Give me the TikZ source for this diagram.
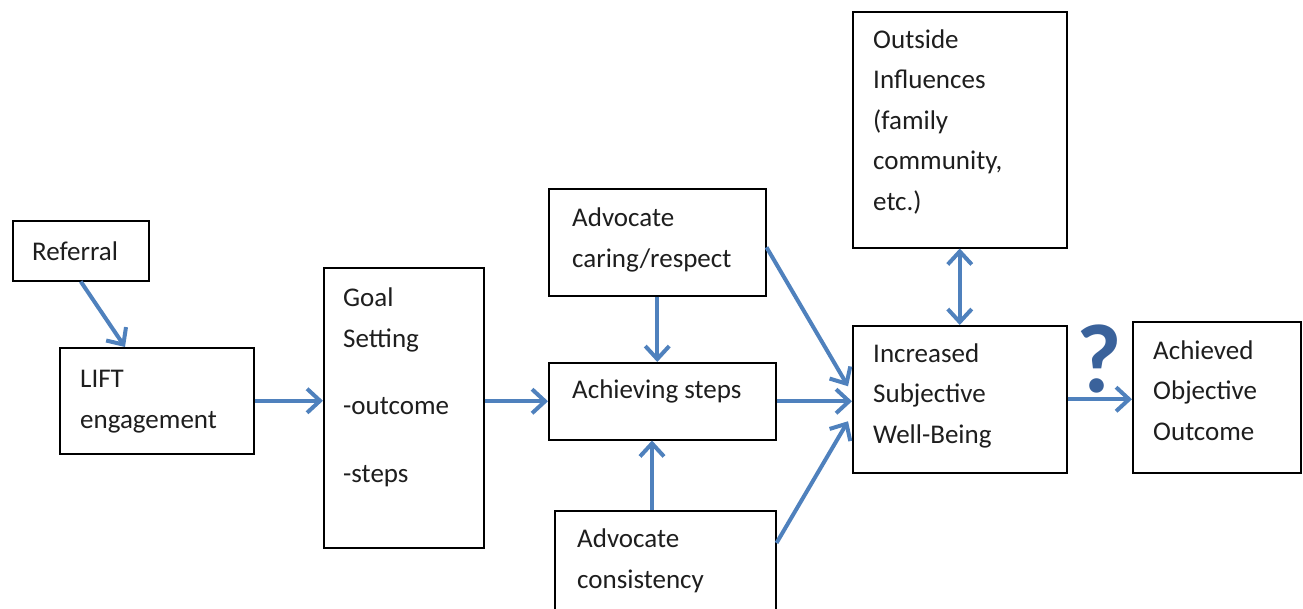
\documentclass[tikz,border=0pt]{standalone}
\usepackage{fontspec}
\setmainfont{Carlito}
\usetikzlibrary{arrows.meta,calc,shadows}
\definecolor{arr}{RGB}{79,129,189}
\definecolor{qcol}{RGB}{58,98,155}
\definecolor{txtc}{RGB}{30,30,30}
\tikzset{myb/.tip={Straight Barb[length=13pt,width=24pt]}}
\begin{document}
\begin{tikzpicture}[x=1pt,y=-1pt,
 box/.style={draw=black, line width=1.5pt, fill=white, inner sep=0pt, anchor=north west,
   general shadow={fill=black, shadow xshift=1.5pt, shadow yshift=-1.5pt}},
 lbl/.style={anchor=base west, inner sep=0pt, align=left, font=\fontsize{27}{40.5}\selectfont, text=txtc},
 con/.style={draw=arr, line width=4pt, -myb},
 dcon/.style={draw=arr, line width=4pt, myb-myb}]
\path[use as bounding box] (0,0) rectangle (1303,608);
\clip (0,0) rectangle (1303,608);
\node[box, minimum width=136, minimum height=60] (ref) at (12,220) {};
\node[lbl] (reft) at (32,260) {Referral};
\node[box, minimum width=194, minimum height=106] (lift) at (59,347) {};
\node[lbl] (liftt) at (80,428) {LIFT\\engagement};
\node[box, minimum width=160, minimum height=280] (goal) at (323,267) {};
\node[lbl] (goalt) at (343,482) {Goal\\Setting\\[27pt]-outcome\\[27pt]-steps};
\node[box, minimum width=217, minimum height=107] (ca) at (548,188) {};
\node[lbl] (cat) at (572,267) {Advocate\\caring/respect};
\node[box, minimum width=227, minimum height=77] (ach) at (548,362) {};
\node[lbl] (acht) at (572,398) {Achieving steps};
\node[box, minimum width=221, minimum height=115] (co) at (554,510) {};
\node[lbl] (cot) at (577,588) {Advocate\\consistency};
\node[box, minimum width=214, minimum height=236] (out) at (852,11) {};
\node[lbl] (outt) at (873,210) {Outside\\Influences\\(family\\community,\\etc.)};
\node[box, minimum width=214, minimum height=147] (inc) at (852,325) {};
\node[lbl] (inct) at (873,443) {Increased\\Subjective\\Well-Being};
\node[box, minimum width=168, minimum height=151] (res) at (1132,321) {};
\node[lbl] (rest) at (1153,440) {Achieved\\Objective\\Outcome};
\node[text=qcol, font=\fontsize{98}{98}\selectfont\bfseries, anchor=base, inner sep=0pt] (q) at (1099,392) {?};
% connectors
\coordinate (cotop) at ($(co.north west)+(98,0)$);
\coordinate (lifttop) at ($(lift.north west)+(66,0)$);
\draw[con] (ref.south) -- (lifttop);
\draw[con] (lift.east) -- (lift.east -| goal.west);
\draw[con] (ach.west -| goal.east) -- (ach.west);
\draw[con] (ca.south) -- (ca.south |- ach.north);
\draw[con] (cotop) -- (cotop |- ach.south);
\draw[con] (ach.east) -- (ach.east -| inc.west);
\draw[con] ($(ca.east)+(0,5)$) -- ($(inc.west)+(-4,-13)$);
\draw[con] ($(co.north east)+(0,33)$) -- ($(inc.west)+(-4,22)$);
\draw[dcon] (out.south) -- (inc.north);
\draw[con] (inc.east) -- (inc.east -| res.west);
\end{tikzpicture}
\end{document}
